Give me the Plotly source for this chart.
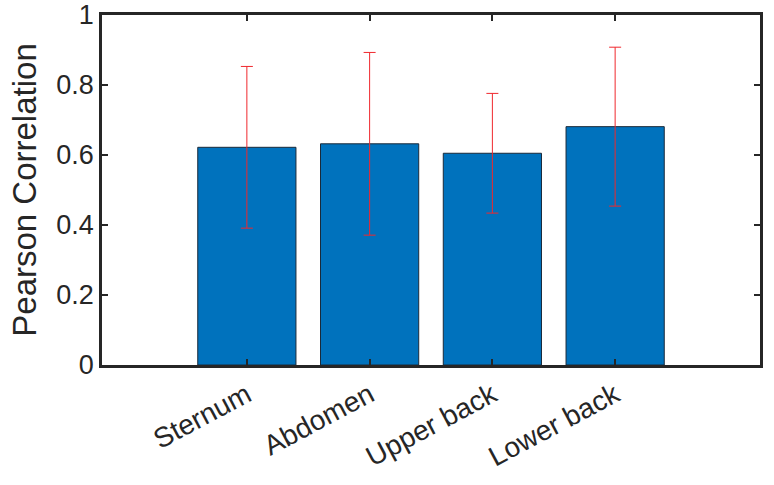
import plotly.graph_objects as go

categories = ["Sternum", "Abdomen", "Upper back", "Lower back"]
means = [0.622, 0.632, 0.605, 0.681]
errors = [0.231, 0.261, 0.171, 0.227]
ytick_vals = [0, 0.2, 0.4, 0.6, 0.8, 1]
ytick_text = ["0", "0.2", "0.4", "0.6", "0.8", "1"]

xpos = list(range(len(categories)))
axis_col = "#262626"
font_family = "Liberation Sans, Arial, sans-serif"

fig = go.Figure()
fig.add_trace(go.Bar(
    x=xpos, y=means, width=0.8,
    marker=dict(color="#0072BD", line=dict(color="#1a2a3a", width=1)),
    error_y=dict(type="data", array=errors, visible=True,
                 color="#f0282d", thickness=1, width=6),
    showlegend=False,
))

fig.update_layout(
    width=774, height=485,
    margin=dict(l=102, r=14, t=15, b=120),
    paper_bgcolor="white", plot_bgcolor="white",
    font=dict(family=font_family, color=axis_col, size=26),
    bargap=0.2,
)
fig.update_xaxes(
    range=[-1.18, 4.18], tickvals=xpos, ticktext=categories,
    tickangle=-28, ticks="inside", ticklen=6, tickwidth=2, tickcolor=axis_col,
    showline=True, linewidth=2.5, linecolor=axis_col, mirror="ticks",
    showgrid=False, zeroline=False, tickfont=dict(size=28), automargin=False,
)
fig.update_yaxes(
    range=[0, 1], tickvals=ytick_vals, ticktext=ytick_text,
    ticks="inside", ticklen=6, tickwidth=2, tickcolor=axis_col,
    showline=True, linewidth=2.5, linecolor=axis_col, mirror="ticks",
    showgrid=False, zeroline=False, tickfont=dict(size=27), automargin=False,
    ticklabeloverflow="allow",
    title=dict(text="Pearson Correlation", font=dict(size=33), standoff=10),
)

fig.write_html("out.html", config={"displayModeBar": False},
               post_script="document.body.style.margin='0';")
